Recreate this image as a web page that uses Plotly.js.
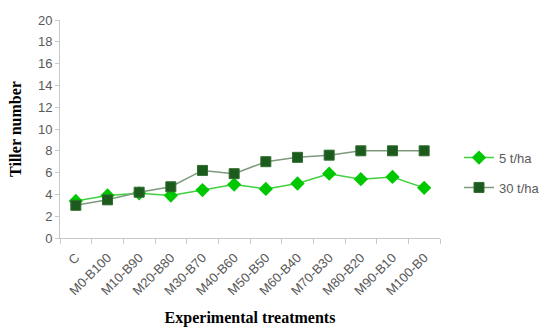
<!DOCTYPE html>
<html>
<head>
<meta charset="utf-8">
<script src="https://cdn.plot.ly/plotly-3.0.1.min.js"></script>
<style>
  html, body { margin: 0; padding: 0; background: #ffffff; }
  #chart { width: 548px; height: 327px; }
</style>
</head>
<body>
<div id="chart"></div>
<script>
// Treatments on the x axis
const treatments = ["C", "M0-B100", "M10-B90", "M20-B80", "M30-B70", "M40-B60",
  "M50-B50", "M60-B40", "M70-B30", "M80-B20", "M90-B10", "M100-B0"];

// Tiller number per treatment for each application rate
const tiller5 = [3.4, 3.9, 4.1, 3.9, 4.4, 4.9, 4.5, 5.0, 5.9, 5.4, 5.6, 4.6];
const tiller30 = [3.0, 3.5, 4.2, 4.7, 6.2, 5.9, 7.0, 7.4, 7.6, 8.0, 8.0, 8.0];

const seriesNames = ["5 t/ha", "30 t/ha"];

const traces = [
  {
    x: treatments, y: tiller5, name: seriesNames[0], type: "scatter", mode: "lines+markers",
    line: { color: "#3fd13f", width: 1.5 },
    marker: { symbol: "diamond", size: 11, color: "#00c800" },
    legendgroup: "a"
  },
  {
    x: treatments, y: tiller30, name: seriesNames[1], type: "scatter", mode: "lines+markers",
    line: { color: "#7d9a7d", width: 1.5 },
    marker: { symbol: "square", size: 10, color: "#1d5a1d", line: { color: "#2e6e2e", width: 1 } },
    legendgroup: "b"
  }
];

const tickFont = { family: "Liberation Sans, Arial, sans-serif", size: 13, color: "#595959" };
const titleFont = { family: "Liberation Serif, Times New Roman, serif", size: 16, color: "#000000", weight: "bold" };

const layout = {
  width: 548, height: 327,
  margin: { l: 60, r: 108, t: 20, b: 89, autoexpand: false },
  paper_bgcolor: "#ffffff", plot_bgcolor: "#ffffff",
  showlegend: true,
  legend: {
    x: 1.05, y: 0.30, xanchor: "left", yanchor: "middle",
    font: { family: "Liberation Sans, Arial, sans-serif", size: 13, color: "#595959" },
    traceorder: "grouped", tracegroupgap: 10,
    bgcolor: "rgba(0,0,0,0)"
  },
  xaxis: {
    type: "category", range: [-0.5, 11.5], automargin: false,
    tickson: "boundaries", ticks: "outside", ticklen: 5, tickcolor: "#c8c8c8",
    showline: true, linecolor: "#c8c8c8", linewidth: 1,
    showgrid: false, zeroline: false,
    tickangle: -45, tickfont: tickFont, ticklabelstandoff: 6,
    title: { text: "Experimental treatments", font: titleFont, standoff: 14 }
  },
  yaxis: {
    range: [0, 20], dtick: 2, automargin: false,
    ticks: "outside", ticklen: 4, tickcolor: "#c8c8c8",
    showline: true, linecolor: "#c8c8c8", linewidth: 1,
    showgrid: false, zeroline: false,
    tickfont: tickFont,
    title: { text: "Tiller number", font: titleFont, standoff: 12 }
  }
};

Plotly.newPlot("chart", traces, layout, { displayModeBar: false, staticPlot: true });
</script>
</body>
</html>
